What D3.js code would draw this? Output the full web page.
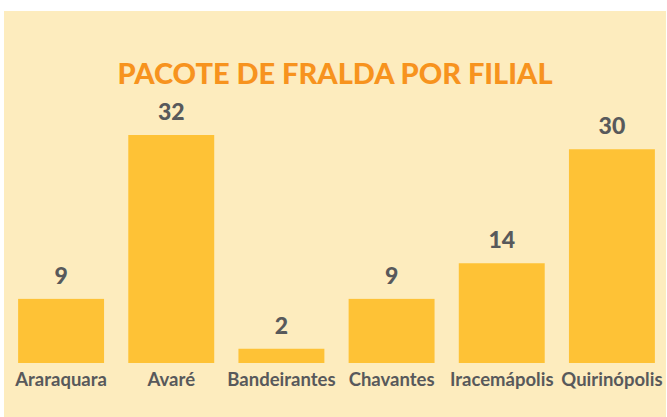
<!DOCTYPE html>
<html>
<head>
<meta charset="utf-8">
<script src="https://cdn.jsdelivr.net/npm/d3@7"></script>
<style>
    body { margin: 0; background: #ffffff; }
    svg { display: block; }
</style>
</head>
<body>
<script>
    var w = 667;
    var h = 417;

    var filiais = ["Araraquara", "Avaré", "Bandeirantes", "Chavantes", "Iracemápolis", "Quirinópolis"];
    var pacotes = [9, 32, 2, 9, 14, 30];

    var titulo = "PACOTE DE FRALDA POR FILIAL";

    var svg = d3.select("body").append("svg").attr("width", w).attr("height", h);

    // fundo creme
    svg.append("rect")
        .attr("x", 4)
        .attr("y", 11)
        .attr("width", w - 5)
        .attr("height", h - 11)
        .attr("fill", "#fdecbe");

    var xScale = d3.scaleBand()
        .domain(filiais)
        .range([6, 667])
        .paddingInner(0.22)
        .paddingOuter(0.11);

    var yScale = d3.scaleLinear()
        .domain([0, 32])
        .range([363, 135]);

    svg.selectAll("rect.bar")
        .data(filiais)
        .enter().append("rect")
        .attr("class", "bar")
        .attr("x", function (d) { return xScale(d); })
        .attr("y", function (d, i) { return yScale(pacotes[i]); })
        .attr("width", xScale.bandwidth())
        .attr("height", function (d, i) { return yScale(0) - yScale(pacotes[i]); })
        .attr("fill", "#fec236");

    // valores acima das barras
    svg.selectAll("text.valor")
        .data(filiais)
        .enter().append("text")
        .attr("class", "valor")
        .attr("x", function (d) { return xScale(d) + xScale.bandwidth() / 2; })
        .attr("y", function (d, i) { return yScale(pacotes[i]) - 15; })
        .attr("text-anchor", "middle")
        .style("font-family", "Lato, sans-serif")
        .style("font-weight", 900)
        .style("font-size", "23px")
        .style("fill", "#58595b")
        .text(function (d, i) { return pacotes[i]; });

    // eixo x sem linha
    var xAxis = d3.axisBottom(xScale).tickSize(0).tickPadding(0);
    var gx = svg.append("g")
        .attr("transform", "translate(0,373)")
        .call(xAxis);
    gx.select(".domain").remove();
    gx.selectAll("text")
        .attr("dy", "0.71em")
        .style("font-family", "Lato, sans-serif")
        .style("font-weight", 700)
        .style("font-size", "18.5px")
        .style("fill", "#58595b");

    svg.append("text")
        .attr("x", 335)
        .attr("y", 84)
        .attr("text-anchor", "middle")
        .style("font-family", "Lato, sans-serif")
        .style("font-weight", 900)
        .style("font-size", "29px")
        .style("fill", "#f7931e")
        .text(titulo);
</script>
</body>
</html>
